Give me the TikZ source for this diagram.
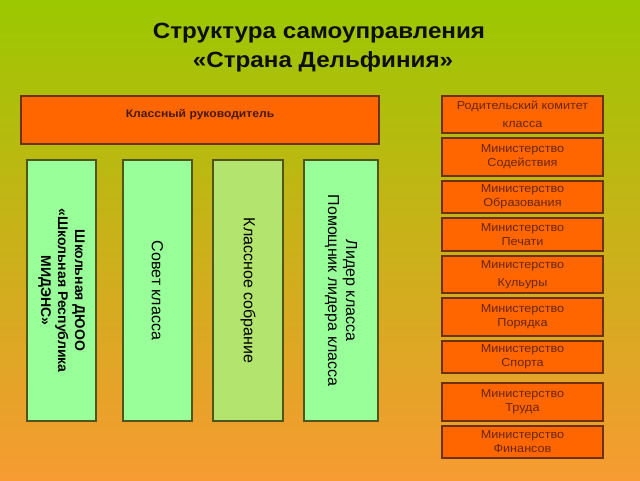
\documentclass[tikz,border=0pt]{standalone}
\usepackage{fontspec}
\setmainfont{Liberation Sans}[FakeStretch=1.1]
\newfontfamily\rotfont{Liberation Sans}
\definecolor{bgtop}{RGB}{155,200,0}
\definecolor{bgmid}{RGB}{210,180,25}
\definecolor{bgbot}{RGB}{247,155,50}
\definecolor{orangebox}{RGB}{255,102,0}
\definecolor{orangeedge}{RGB}{110,50,10}
\definecolor{greenbox}{RGB}{153,255,153}
\definecolor{greenbox2}{RGB}{178,228,110}
\definecolor{greenedge}{RGB}{80,85,30}
\definecolor{mintext}{RGB}{105,38,0}
\definecolor{headtext}{RGB}{70,25,0}
\definecolor{titletext}{RGB}{15,15,10}
\begin{document}
\begin{tikzpicture}[x=1pt,y=-1pt,
  obox/.style={draw=orangeedge, fill=orangebox, line width=1.2pt, inner sep=0pt,
    minimum width=161, align=center, text=mintext},
  minbox/.style={obox, font=\fontsize{11.5}{14}\selectfont,
    execute at begin node={\rule{0pt}{21pt}}},
  widebox/.style={obox, font=\fontsize{11.5}{18}\selectfont,
    execute at begin node={\rule{0pt}{13pt}}},
  gbox/.style={draw=greenedge, fill=greenbox, line width=1.2pt, inner sep=0pt,
    rotate=-90, minimum width=261, align=center, text=black},
  ttl/.style={anchor=base, text=titletext, font=\fontsize{22}{29}\selectfont\bfseries}]
\shade[top color=bgtop, middle color=bgmid, bottom color=bgbot] (0,0) rectangle (640,480);
\useasboundingbox (0,0) rectangle (640,480);
% title
\node[ttl] (t1) at (319,38) {Структура самоуправления};
\node[ttl] (t2) at (323,67) {«Страна Дельфиния»};
% head box
\node[draw=orangeedge, fill=orangebox, line width=1.2pt, minimum width=358, minimum height=48, inner sep=0pt] (ruk) at (200,120) {};
\node[anchor=base, text=headtext, font=\fontsize{11}{13}\selectfont\bfseries] (rukt) at (200,117.5) {Классный руководитель};
% vertical boxes
\node[gbox, minimum height=69, font=\rotfont\fontsize{14}{17}\selectfont\bfseries] (b1) at (61.5,290.5)
  {Школьная ДЮОО\\«Школьная Республика\\МИДЭНС»};
\node[gbox, minimum height=69, font=\rotfont\fontsize{16}{18}\selectfont] (b2) at (157.5,290.5) {Совет класса};
\node[gbox, fill=greenbox2, minimum height=70, font=\rotfont\fontsize{16}{18}\selectfont] (b3) at (248,290.5) {Классное собрание};
\node[gbox, minimum height=74, font=\rotfont\fontsize{16}{18}\selectfont] (b4) at (341,290.5) {Лидер класса\\Помощник лидера класса};
% right column
\node[widebox, minimum height=37] (rod) at (522.5,114.5) {Родительский комитет\\класса};
\node[minbox, minimum height=38] (sod) at (522.5,157) {Министерство\\Содействия};
\node[minbox, minimum height=32] (obr) at (522.5,197) {Министерство\\Образования};
\node[minbox, minimum height=33] (pech) at (522.5,234.5) {Министерство\\Печати};
\node[widebox, minimum height=37] (kult) at (522.5,274.5) {Министерство\\Кульуры};
\node[minbox, minimum height=38] (por) at (522.5,317) {Министерство\\Порядка};
\node[minbox, minimum height=32] (sport) at (522.5,357) {Министерство\\Спорта};
\node[minbox, minimum height=38] (trud) at (522.5,402) {Министерство\\Труда};
\node[minbox, minimum height=32] (fin) at (522.5,442) {Министерство\\Финансов};
\end{tikzpicture}
\end{document}
